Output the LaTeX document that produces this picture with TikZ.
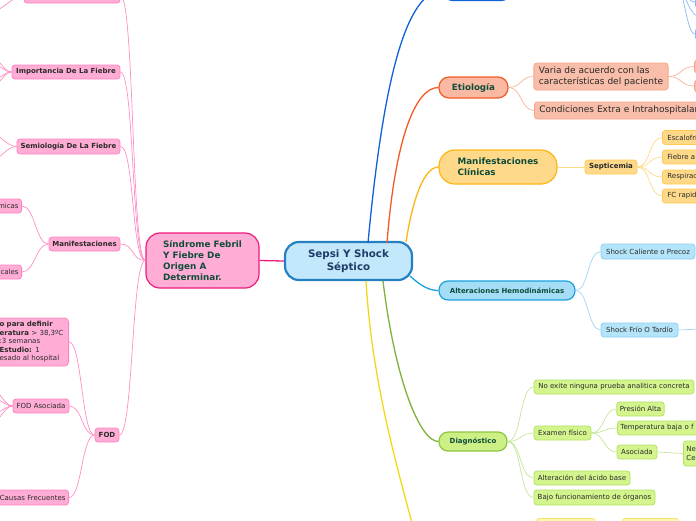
\documentclass[tikz,border=0pt]{standalone}
\usepackage{fontspec}
\setmainfont{DejaVu Sans}
\usetikzlibrary{positioning}

\definecolor{roottxt}{HTML}{1C3C66}
\definecolor{topictxt}{HTML}{0F4C3A}
\definecolor{leaftxt}{HTML}{2A2A2A}
\definecolor{rootfill}{HTML}{C3E8FB}
\definecolor{rootdraw}{HTML}{2580C3}
\definecolor{pinkfill}{HTML}{FFADD5}
\definecolor{pinkdraw}{HTML}{FF85C0}
\definecolor{pinkmain}{HTML}{EC1C7C}
\definecolor{pinklink}{HTML}{FF8EC7}
\definecolor{bluemain}{HTML}{0F62D6}
\definecolor{bluelink}{HTML}{8DB6F2}
\definecolor{orangefill}{HTML}{F9BEA9}
\definecolor{orangedraw}{HTML}{F6A687}
\definecolor{orangemain}{HTML}{F15A24}
\definecolor{orangelink}{HTML}{FAB29A}
\definecolor{amberfill}{HTML}{FFD98A}
\definecolor{amberdraw}{HTML}{FFC94F}
\definecolor{ambermain}{HTML}{FBB615}
\definecolor{amberlink}{HTML}{FFDA85}
\definecolor{cyanfill}{HTML}{B4E4F9}
\definecolor{cyandraw}{HTML}{8ACFF1}
\definecolor{cyanmain}{HTML}{1CA0DE}
\definecolor{cyanlink}{HTML}{9BD7F4}
\definecolor{greenfill}{HTML}{D4F58E}
\definecolor{greendraw}{HTML}{B3E065}
\definecolor{greenmain}{HTML}{8CC63F}
\definecolor{greenlink}{HTML}{C4E59A}
\definecolor{yellowmain}{HTML}{F1D91A}
\definecolor{yellowfill}{HTML}{FFF7B0}
\definecolor{yellowdraw}{HTML}{F4E36A}

\begin{document}
\begin{tikzpicture}[x=1pt, y=-1pt,
    leaf/.style={draw, rounded corners=3pt, line width=0.8pt, minimum height=14, inner xsep=3pt, inner ysep=1pt, font=\fontsize{7}{8.5}\selectfont, text=leaftxt},
    topic/.style={draw, line width=1.2pt, inner xsep=6pt, font=\bfseries\fontsize{7}{9}\selectfont, text=topictxt},
    pinkleaf/.style={leaf, fill=pinkfill, draw=pinkdraw},
    pinkhead/.style={pinkleaf, font=\bfseries\fontsize{7}{8.5}\selectfont},
    orangeleaf/.style={leaf, fill=orangefill, draw=orangedraw},
    amberleaf/.style={leaf, fill=amberfill, draw=amberdraw},
    cyanleaf/.style={leaf, fill=cyanfill, draw=cyandraw},
    greenleaf/.style={leaf, fill=greenfill, draw=greendraw},
    yellowleaf/.style={leaf, fill=yellowfill, draw=yellowdraw},
    link/.style={line width=0.7pt},
    branch/.style={line width=1.3pt}]
    \useasboundingbox (0,0) rectangle (696,520);
    \clip (0,0) rectangle (696,520);

    %% Root
    \node[draw=rootdraw, fill=rootfill, line width=2.2pt, rounded corners=14pt, minimum width=127, minimum height=38, align=center, text=roottxt, font=\bfseries\fontsize{10.3}{13}\selectfont] (sys) at (348.5,261) {Sepsi Y Shock\\Séptico};

    %% Left branch (pink)
    \node[topic, draw=pinkmain, fill=pinkfill, rounded corners=14pt, minimum width=113, minimum height=55, align=left, font=\bfseries\fontsize{8.8}{11}\selectfont] (sfo) at (202.5,260.5) {Síndrome Febril\\Y Fiebre De\\Origen A\\Determinar.};
    \draw[pinkmain, line width=1.3pt] (sys.west) -- (sfo.east);

    \node[pinkhead, minimum width=96, minimum height=15] (ptop) at (72,-4.5) {};
    \node[pinkhead, minimum width=108] (imp) at (66,72) {Importancia De La Fiebre};
    \node[pinkhead, minimum width=103, minimum height=15] (sem) at (68.5,146.5) {Semiología De La Fiebre};
    \node[pinkhead, minimum width=71] (man) at (84.5,244) {Manifestaciones};
    \node[pinkhead, minimum width=24] (fod) at (107,435) {FOD};
    \foreach \n in {ptop,imp,sem,man,fod}
        \draw[pinklink, link] (sfo.west) .. controls +(-14,0) and +(14,0) .. (\n.east);

    \node[pinkleaf, anchor=east, text width=50, align=right] (sist) at (22,206) {micas};
    \node[pinkleaf, anchor=east, text width=50, align=right] (loc) at (22,272) {cales};
    \foreach \n in {sist,loc}
        \draw[pinklink, link] (man.west) .. controls +(-13,0) and +(13,0) .. (\n.east);

    \node[pinkleaf, anchor=east, text width=66, align=left, minimum height=48, rounded corners=4pt] (crit) at (69,342) {\textbf{o para definir}\\\textbf{eratura} > 38,3ºC\\:3 semanas\\\textbf{Estudio:} 1\\esado al hospital};
    \node[pinkleaf, minimum width=56] (fas) at (41,406) {FOD Asociada};
    \node[pinkleaf, anchor=east, text width=66, align=right, minimum height=15] (caus) at (69,497.5) {Causas Frecuentes};
    \foreach \n in {crit,fas,caus}
        \draw[pinklink, link] (fod.west) .. controls +(-13,0) and +(13,0) .. (\n.east);

    %% Pink leaves leaving the frame
    \coordinate (ptopA) at (-8,12);
    \foreach \y [count=\i] in {58,64,80,86} \coordinate (impL\i) at (-8,\y);
    \foreach \y [count=\i] in {134,160} \coordinate (semL\i) at (-8,\y);
    \foreach \y [count=\i] in {390,398,414,422} \coordinate (fasL\i) at (-8,\y);
    \draw[pinklink, link] (ptop.west) .. controls +(-10,0) and +(8,0) .. (ptopA);
    \foreach \i in {1,...,4} {
        \draw[pinklink, link] (imp.west) .. controls +(-8,0) and +(8,0) .. (impL\i);
        \draw[pinklink, link] (fas.west) .. controls +(-8,0) and +(8,0) .. (fasL\i);
    }
    \foreach \i in {1,2}
        \draw[pinklink, link] (sem.west) .. controls +(-10,0) and +(8,0) .. (semL\i);

    %% Top branch (blue)
    \node[draw=bluemain, fill=white, line width=1.2pt, rounded corners=8pt, minimum width=65, minimum height=21] (blu) at (477,-10) {};
    \draw[bluemain, branch] (368,243) .. controls (385,60) and (410,-10) .. (blu.west);
    \coordinate (bluSrc) at (679,-12);
    \node[leaf, draw=bluelink, fill=white, anchor=west, minimum width=30, minimum height=12] (bluA) at (695,2) {};
    \node[leaf, draw=bluelink, fill=white, anchor=west, minimum width=30, minimum height=12] (bluC) at (695,34) {};
    \coordinate (bluB) at (698,16);
    \foreach \n in {bluA.west,bluB,bluC.west}
        \draw[bluelink, link] (bluSrc) .. controls +(4,0) and +(-8,0) .. (\n);

    %% Etiologia (orange)
    \node[topic, draw=orangemain, fill=orangefill!95!orangemain, rounded corners=10pt, minimum width=69, minimum height=21, font=\bfseries\fontsize{8.7}{10}\selectfont] (eti) at (473.5,87.5) {Etiología};
    \draw[orangemain, branch] (387,243) .. controls (395,140) and (415,87.5) .. (eti.west);
    \node[orangeleaf, align=left, inner xsep=5pt, minimum height=27, font=\fontsize{9}{11}\selectfont] (var) at (601,76.5) {Varia de acuerdo con las\\características del paciente};
    \node[orangeleaf, anchor=west, text width=200, align=left, inner xsep=5pt, minimum height=17, font=\fontsize{9}{11}\selectfont] (cond) at (534,110.5) {Condiciones Extra e Intrahospitalar};
    \foreach \n in {var,cond}
        \draw[orangelink, link] (eti.east) .. controls +(13,0) and +(-13,0) .. (\n.west);
    \node[orangeleaf, anchor=west, minimum width=30, minimum height=13] (varA) at (694,66.5) {};
    \node[orangeleaf, anchor=west, minimum width=30, minimum height=12] (varB) at (694,86) {};
    \foreach \n in {varA,varB}
        \draw[orangelink, link] (var.east) .. controls +(13,0) and +(-13,0) .. (\n.west);

    %% Manifestaciones Clinicas (amber)
    \node[topic, draw=ambermain, fill=amberfill, rounded corners=16pt, minimum width=118, minimum height=34, align=left, font=\bfseries\fontsize{8.8}{11}\selectfont] (mc) at (498,167) {Manifestaciones\\Clínicas};
    \draw[ambermain, branch] (406,242) .. controls (415,185) and (428,167) .. (mc.west);
    \node[amberleaf, font=\bfseries\fontsize{7}{8.5}\selectfont, minimum width=52] (sep) at (611,167) {Septicemia};
    \draw[amberlink, link] (mc.east) -- (sep.west);
    \foreach \y/\t [count=\i] in {137.5/Escalofrí,157/Fiebre a,177/Respirac,196/FC rapid} {
        \node[amberleaf, anchor=west, text width=50, align=left, inner xsep=5pt] (sepL\i) at (662,\y) {\t};
        \draw[amberlink, link] (sep.east) .. controls +(13,0) and +(-13,0) .. (sepL\i.west);
    }

    %% Alteraciones Hemodinamicas (cyan)
    \node[topic, draw=cyanmain, fill=cyanfill!90!cyanmain, rounded corners=9pt, minimum width=136, minimum height=19] (ah) at (507,290.5) {Alteraciones Hemodinámicas};
    \draw[cyanmain, branch] (410,276) .. controls (422,287) and (430,290.5) .. (ah.west);
    \node[cyanleaf, minimum width=94, minimum height=15] (sca) at (648,251.5) {Shock Caliente o Precoz};
    \node[cyanleaf, minimum width=77] (sft) at (639.5,330) {Shock Frío O Tardío};
    \foreach \n in {sca,sft}
        \draw[cyanlink, link] (ah.east) .. controls +(13,0) and +(-13,0) .. (\n.west);
    \coordinate (sftEnd) at (700,329);
    \draw[cyanlink, link] (sft.east) -- (sftEnd);

    %% Diagnostico (green)
    \node[topic, draw=greenmain, fill=greenfill!90!greenmain, rounded corners=9pt, minimum width=68, minimum height=19] (dia) at (473,441.5) {Diagnóstico};
    \draw[greenmain!90!black, branch] (383,281) .. controls (395,380) and (420,441.5) .. (dia.west);
    \node[greenleaf, minimum width=160] (nop) at (614,387) {No exite ninguna prueba analitica concreta};
    \node[greenleaf, minimum width=57] (exa) at (562.5,433) {Examen físico};
    \node[greenleaf, minimum width=96] (alt) at (582,478) {Alteración del ácido base};
    \node[greenleaf, minimum width=121, minimum height=15] (baj) at (594.5,497.5) {Bajo funcionamiento de órganos};
    \foreach \n in {nop,exa,alt,baj}
        \draw[greenlink, link] (dia.east) .. controls +(14,0) and +(-14,0) .. (\n.west);
    \node[greenleaf, minimum width=47] (pre) at (640.5,409) {Presión Alta};
    \node[greenleaf, anchor=west, text width=80, align=left] (tem) at (617,428) {Temperatura baja o f};
    \node[greenleaf, minimum width=40] (aso) at (637,452) {Asociada};
    \foreach \n in {pre,tem,aso}
        \draw[greenlink, link] (exa.east) .. controls +(13,0) and +(-13,0) .. (\n.west);
    \node[greenleaf, anchor=west, text width=30, align=left, minimum height=25] (nec) at (683,453.5) {Ne\\Ce};
    \draw[greenlink, link] (aso.east) -- (nec.west);

    %% Bottom branch (yellow)
    \coordinate (yelEnd) at (418,545);
    \draw[yellowmain, branch] (366,281) .. controls (372,380) and (395,460) .. (yelEnd);
    \node[yellowleaf, anchor=north west, minimum width=59, minimum height=15] (yelA) at (536,518) {};
    \node[yellowleaf, anchor=north west, minimum width=56, minimum height=15] (yelB) at (622,518) {};
\end{tikzpicture}
\end{document}
